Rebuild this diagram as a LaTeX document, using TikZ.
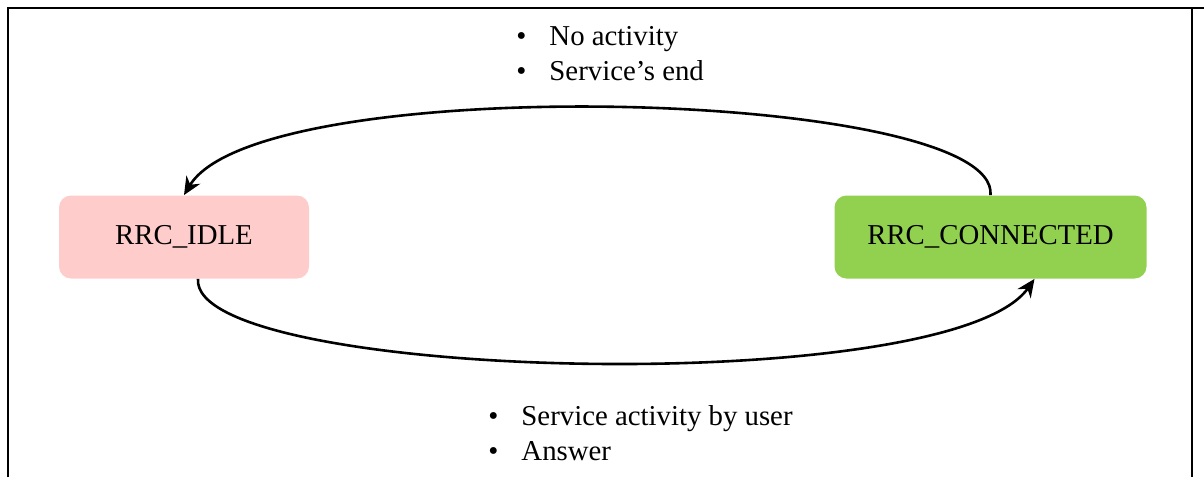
\documentclass[tikz,border=0pt]{standalone}
\usepackage{fontspec}
\setmainfont{Liberation Serif}
\usetikzlibrary{positioning,arrows.meta}
\definecolor{idlepink}{RGB}{255,204,204}
\definecolor{conngreen}{RGB}{146,208,80}
\tikzset{
  state/.style={rounded corners=6pt, minimum height=41.5pt, inner sep=0pt,
    font=\fontsize{14.4}{17}\selectfont},
  item/.style={anchor=base west, inner sep=0pt, font=\fontsize{14.4}{17}\selectfont},
  trans/.style={line width=1.3pt, -{Stealth[length=9pt,width=8pt]}}
}
\newcommand{\bul}{\textbullet\hspace{11.5pt}}
\begin{document}
\begin{tikzpicture}[x=0.5pt,y=-0.5pt]
\useasboundingbox (0,0) rectangle (1204,477);

% frame
\draw[line width=1.3pt] (8,477) -- (8,8) -- (1204,8);
\draw[line width=0.8pt] (1192,8) -- (1192,477);

\node[state, fill=idlepink, minimum width=125pt] (idle) at (184,237) {RRC\_IDLE};
\node[state, fill=conngreen, minimum width=156pt] (conn) at (990.5,237) {RRC\_CONNECTED};

\draw[trans] (conn.north) .. controls +(9,-106) and +(76,-126) .. (idle.north);
\draw[trans] ([xshift=7pt]idle.south) .. controls +(-8,102) and +(-85,121) .. ([xshift=22pt]conn.south);

\node[item] (noact) at (516,45) {\bul No activity};
\node[item] (srvend) at (516,80) {\bul Service’s end};
\node[item] (usract) at (488,425) {\bul Service activity by user};
\node[item] (answer) at (488,460) {\bul Answer};
\end{tikzpicture}
\end{document}
